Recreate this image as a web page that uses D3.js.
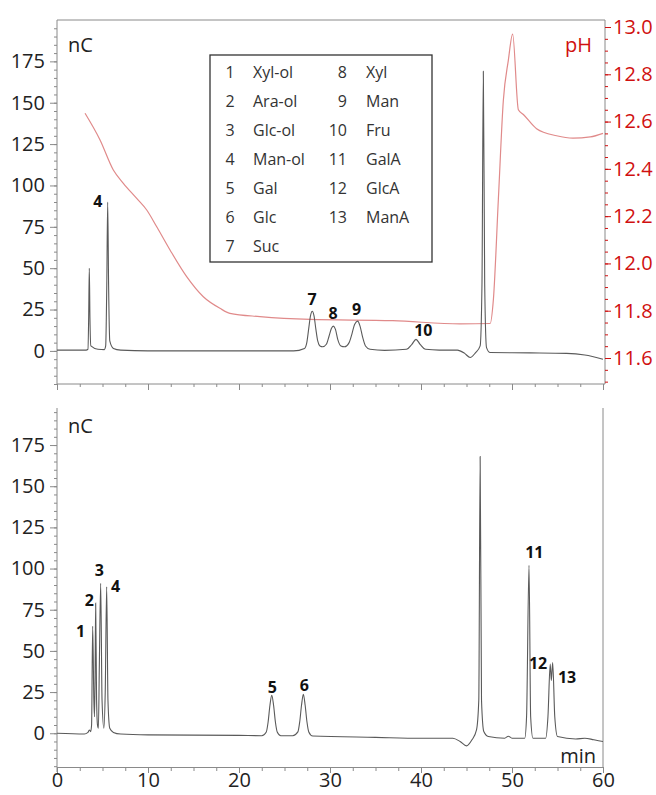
<!DOCTYPE html>
<html lang="en">
<head>
  <meta charset="UTF-8" />
  <title>Chromatogram</title>
  <script src="https://d3js.org/d3.v7.min.js"></script>
  <style>
    body { margin: 0; background: #fff; font-family: "Open Sans", "Noto Sans", sans-serif; }
    .axis path, .axis line { stroke: #8a8a8a; }
    .axis text { fill: #222; font-size: 20px; font-family: "Open Sans", "Noto Sans", sans-serif; }
    .ph text { fill: #d01010; }
    .ph line { stroke: #d01010; }
    .trace { fill: none; stroke: #5a5a5a; stroke-width: 1.1; }
    .phline { fill: none; stroke: #e08a8a; stroke-width: 1.2; }
    .peak { font-size: 16px; font-weight: bold; fill: #111; text-anchor: middle; dominant-baseline: central; }
    .leg { font-size: 16px; fill: #333; dominant-baseline: central; }
  </style>
</head>
<body>
  <svg id="chart" width="656" height="795"></svg>
  <script>
    // axis ticks
    const timeTicks = [0, 10, 20, 30, 40, 50, 60];
    const nCTicks = [0, 25, 50, 75, 100, 125, 150, 175];
    const pHTicks = [11.6, 11.8, 12.0, 12.2, 12.4, 12.6, 12.8, 13.0];

    // legend
    const legendNums = ["1", "2", "3", "4", "5", "6", "7", "8", "9", "10", "11", "12", "13"];
    const legendNames = ["Xyl-ol", "Ara-ol", "Glc-ol", "Man-ol", "Gal", "Glc", "Suc",
                         "Xyl", "Man", "Fru", "GalA", "GlcA", "ManA"];

    // upper chromatogram [min, nC]
    const topTrace = [
      [0, 0.5], [3.2, 0.5], [3.4, 1], [3.48, 20], [3.55, 50], [3.62, 20], [3.72, 3],
      [4.5, 1], [5.2, 0.8], [5.35, 3], [5.47, 40], [5.57, 90], [5.67, 40], [5.8, 6],
      [6.2, 1.5], [7, 0.5], [10, 0], [20, 0], [26, 0], [27.2, 1.5], [27.45, 5], [27.65, 13],
      [27.85, 21], [28.05, 24], [28.25, 21], [28.45, 13], [28.65, 6], [28.9, 3], [29.2, 2.5],
      [29.6, 4], [29.9, 9], [30.15, 13.5], [30.37, 15], [30.6, 13], [30.85, 7], [31.2, 3],
      [31.6, 2.5], [32.1, 5], [32.4, 10], [32.7, 16], [33.04, 18], [33.3, 15], [33.6, 8],
      [33.9, 3], [34.4, 1], [36, 0.3], [38.4, 1], [39, 4], [39.45, 7], [39.9, 4],
      [40.5, 1], [42, 0.5], [44, 0.5], [44.8, -1.5], [45.4, -4], [46, -1], [46.5, 3],
      [46.7, 40], [46.85, 169], [47, 40], [47.2, 2], [47.6, -1], [52, -1.2], [56, -1.5],
      [58, -2.5], [60, -5]
    ];

    // lower chromatogram [min, nC]
    const bottomTrace = [
      [0, 0], [3, -0.5], [3.4, 0.5], [3.55, 2], [3.7, 1], [3.8, 5], [3.92, 65], [4.05, 20],
      [4.12, 10], [4.18, 30], [4.25, 79], [4.35, 20], [4.45, 5], [4.55, 3], [4.65, 40],
      [4.8, 91], [4.95, 20], [5.15, 3], [5.3, 25], [5.46, 89], [5.6, 20], [5.8, 3],
      [6.2, 0.5], [7, -0.5], [10, -1], [20, -1.3], [22.5, -1.5], [23.0, 0.8], [23.2, 6.8],
      [23.4, 17], [23.6, 23], [23.8, 17], [24.0, 6.8], [24.2, 0.8], [24.6, -1.5],
      [25.9, -1.5], [26.47, 0.8], [26.67, 6.8], [26.87, 17], [27.07, 23.7], [27.27, 17],
      [27.47, 6.8], [27.67, 0.8], [28.1, -1.7], [35, -2.5], [40, -3], [43.5, -3],
      [44.3, -5], [45, -7.7], [45.6, -4], [46.1, 2], [46.35, 20], [46.5, 168], [46.65, 20],
      [46.9, 1], [47.4, -2], [49.2, -3], [49.6, -1.8], [50, -3], [51.4, -3], [51.6, 10],
      [51.87, 102], [52.05, 10], [52.3, -3], [53.7, -3], [53.95, 10], [54.2, 42],
      [54.32, 32], [54.47, 43], [54.7, 10], [55, -2], [57, -3.5], [58, -3], [59, -4], [60, -5]
    ];

    // pH gradient [min, pH]
    const pHTrace = [
      [3.08, 12.635], [4.73, 12.522], [6.19, 12.395], [7.29, 12.339], [8.76, 12.275],
      [9.86, 12.226], [10.96, 12.155], [12.42, 12.057], [14.25, 11.944], [16.08, 11.859],
      [17.91, 11.81], [19.0, 11.789], [22.3, 11.775], [27.8, 11.763], [36.9, 11.758],
      [44.3, 11.744], [47.6, 11.746], [47.95, 11.845], [48.5, 12.27], [49.05, 12.69],
      [49.6, 12.86], [50.07, 12.97], [50.7, 12.65], [51.25, 12.63], [52.7, 12.57],
      [54.9, 12.54], [56.7, 12.53], [58.6, 12.535], [60, 12.55]
    ];

    // peak labels: text, min, nC
    const topLabels = [
      { text: "4", t: 4.5, v: 90.8 }, { text: "7", t: 28.03, v: 31.5 },
      { text: "8", t: 30.33, v: 22.8 }, { text: "9", t: 32.93, v: 25.4 },
      { text: "10", t: 40.25, v: 12.7 }
    ];
    const bottomLabels = [
      { text: "1", t: 2.6, v: 62.2 }, { text: "2", t: 3.55, v: 80.9 },
      { text: "3", t: 4.65, v: 99.1 }, { text: "4", t: 6.45, v: 89.4 },
      { text: "5", t: 23.66, v: 28.2 }, { text: "6", t: 27.18, v: 29.2 },
      { text: "11", t: 52.45, v: 109.8 }, { text: "12", t: 52.86, v: 42.6 },
      { text: "13", t: 56.05, v: 34.1 }
    ];

    const svg = d3.select("#chart");

    const x = d3.scaleLinear().domain([0, 60]).range([57, 603]);
    const yTop = d3.scaleLinear().domain([-20, 200]).range([384, 20]);
    const yPH = d3.scaleLinear().domain([11.6, 13.0]).range([358, 27]);
    const yBot = d3.scaleLinear().domain([-20.5, 197.5]).range([767, 408]);

    const xMinor = d3.range(0, 60.01, 2.5);
    const nCMinor = d3.range(-20, 196, 5);
    const pHMinor = d3.range(11.5, 13.03, 0.05);

    svg.append("defs").append("clipPath").attr("id", "clipTop")
      .append("rect").attr("x", 57).attr("y", 20).attr("width", 548).attr("height", 364);
    svg.select("defs").append("clipPath").attr("id", "clipBot")
      .append("rect").attr("x", 57).attr("y", 408).attr("width", 546).attr("height", 359);

    // ---------- upper panel ----------
    const topRight = x(60) + 2;

    // frame lines
    svg.append("line").attr("x1", 57).attr("x2", topRight).attr("y1", 20).attr("y2", 20)
      .attr("stroke", "#8a8a8a");
    svg.append("line").attr("x1", 57).attr("x2", 57).attr("y1", 20).attr("y2", 384)
      .attr("stroke", "#8a8a8a");
    svg.append("line").attr("x1", topRight).attr("x2", topRight).attr("y1", 20).attr("y2", 384)
      .attr("stroke", "#8a8a8a");

    svg.append("g").attr("class", "axis").attr("transform", "translate(57,0)")
      .call(d3.axisLeft(yTop).tickValues(nCMinor).tickSize(3).tickFormat(""))
      .call(g => g.select(".domain").remove());
    svg.append("g").attr("class", "axis").attr("transform", "translate(57,0)")
      .call(d3.axisLeft(yTop).tickValues(nCTicks).tickSize(7).tickPadding(5))
      .call(g => g.select(".domain").remove());

    svg.append("g").attr("class", "axis ph").attr("transform", `translate(${topRight},0)`)
      .call(d3.axisRight(yPH).tickValues(pHMinor.filter(d => d > 11.49)).tickSize(3).tickFormat(""))
      .call(g => g.select(".domain").remove());
    svg.append("g").attr("class", "axis ph").attr("transform", `translate(${topRight},0)`)
      .call(d3.axisRight(yPH).tickValues(pHTicks).tickSize(6).tickPadding(2).tickFormat(d3.format(".1f")))
      .call(g => g.select(".domain").remove());

    svg.append("g").attr("class", "axis").attr("transform", "translate(0,384)")
      .call(d3.axisBottom(x).tickValues(xMinor).tickSize(3).tickFormat(""))
      .call(g => g.select(".domain").remove());
    svg.append("g").attr("class", "axis").attr("transform", "translate(0,384)")
      .call(d3.axisBottom(x).tickValues(timeTicks).tickSize(6).tickFormat("").tickSizeOuter(0))
      .call(g => g.select(".domain").attr("d", `M57,0H${topRight}`));

    const lineTop = d3.line().x(d => x(d[0])).y(d => yTop(d[1])).curve(d3.curveMonotoneX);
    const linePH = d3.line().x(d => x(d[0])).y(d => yPH(d[1])).curve(d3.curveMonotoneX);

    svg.append("path").attr("class", "phline").attr("clip-path", "url(#clipTop)")
      .attr("d", linePH(pHTrace));
    svg.append("path").attr("class", "trace").attr("clip-path", "url(#clipTop)")
      .attr("d", lineTop(topTrace));

    svg.append("text").attr("x", 68).attr("y", 44).attr("font-size", 20)
      .attr("dominant-baseline", "central").attr("fill", "#222").text("nC");
    svg.append("text").attr("x", 592).attr("y", 44).attr("font-size", 20)
      .attr("text-anchor", "end").attr("dominant-baseline", "central")
      .attr("fill", "#d01010").text("pH");

    svg.selectAll(".topLabel").data(topLabels).join("text")
      .attr("class", "peak").attr("x", d => x(d.t)).attr("y", d => yTop(d.v)).text(d => d.text);

    // legend
    const legend = svg.append("g");
    legend.append("rect").attr("x", 210).attr("y", 55).attr("width", 222).attr("height", 207)
      .attr("fill", "#fff").attr("stroke", "#333").attr("stroke-width", 1.3);
    legendNums.forEach((n, i) => {
      const col = i < 7 ? 0 : 1;
      const row = col === 0 ? i : i - 7;
      const cy = 72 + row * 29;
      legend.append("text").attr("class", "leg")
        .attr("x", col === 0 ? 230 : 347).attr("y", cy)
        .attr("text-anchor", col === 0 ? "middle" : "end").text(n);
      legend.append("text").attr("class", "leg")
        .attr("x", col === 0 ? 253 : 366).attr("y", cy).text(legendNames[i]);
    });

    // ---------- lower panel ----------
    svg.append("line").attr("x1", x(60)).attr("x2", x(60)).attr("y1", 408).attr("y2", 767)
      .attr("stroke", "#8a8a8a");
    svg.append("line").attr("x1", 57).attr("x2", 57).attr("y1", 408).attr("y2", 772)
      .attr("stroke", "#8a8a8a");

    svg.append("g").attr("class", "axis").attr("transform", "translate(57,0)")
      .call(d3.axisLeft(yBot).tickValues(nCMinor).tickSize(3).tickFormat(""))
      .call(g => g.select(".domain").remove());
    svg.append("g").attr("class", "axis").attr("transform", "translate(57,0)")
      .call(d3.axisLeft(yBot).tickValues(nCTicks).tickSize(7).tickPadding(5))
      .call(g => g.select(".domain").remove());

    svg.append("g").attr("class", "axis").attr("transform", "translate(0,767)")
      .call(d3.axisBottom(x).tickValues(xMinor).tickSize(4).tickFormat(""))
      .call(g => g.select(".domain").remove());
    svg.append("g").attr("class", "axis").attr("transform", "translate(0,767)")
      .call(d3.axisBottom(x).tickValues(timeTicks).tickSize(6).tickPadding(0).tickSizeOuter(0));

    const lineBot = d3.line().x(d => x(d[0])).y(d => yBot(d[1])).curve(d3.curveMonotoneX);
    svg.append("path").attr("class", "trace").attr("clip-path", "url(#clipBot)")
      .attr("d", lineBot(bottomTrace));

    svg.append("text").attr("x", 68).attr("y", 425).attr("font-size", 20)
      .attr("dominant-baseline", "central").attr("fill", "#222").text("nC");
    svg.append("text").attr("x", 596).attr("y", 755).attr("font-size", 20)
      .attr("text-anchor", "end").attr("dominant-baseline", "central")
      .attr("fill", "#222").text("min");

    svg.selectAll(".botLabel").data(bottomLabels).join("text")
      .attr("class", "peak").attr("x", d => x(d.t)).attr("y", d => yBot(d.v)).text(d => d.text);
  </script>
</body>
</html>
